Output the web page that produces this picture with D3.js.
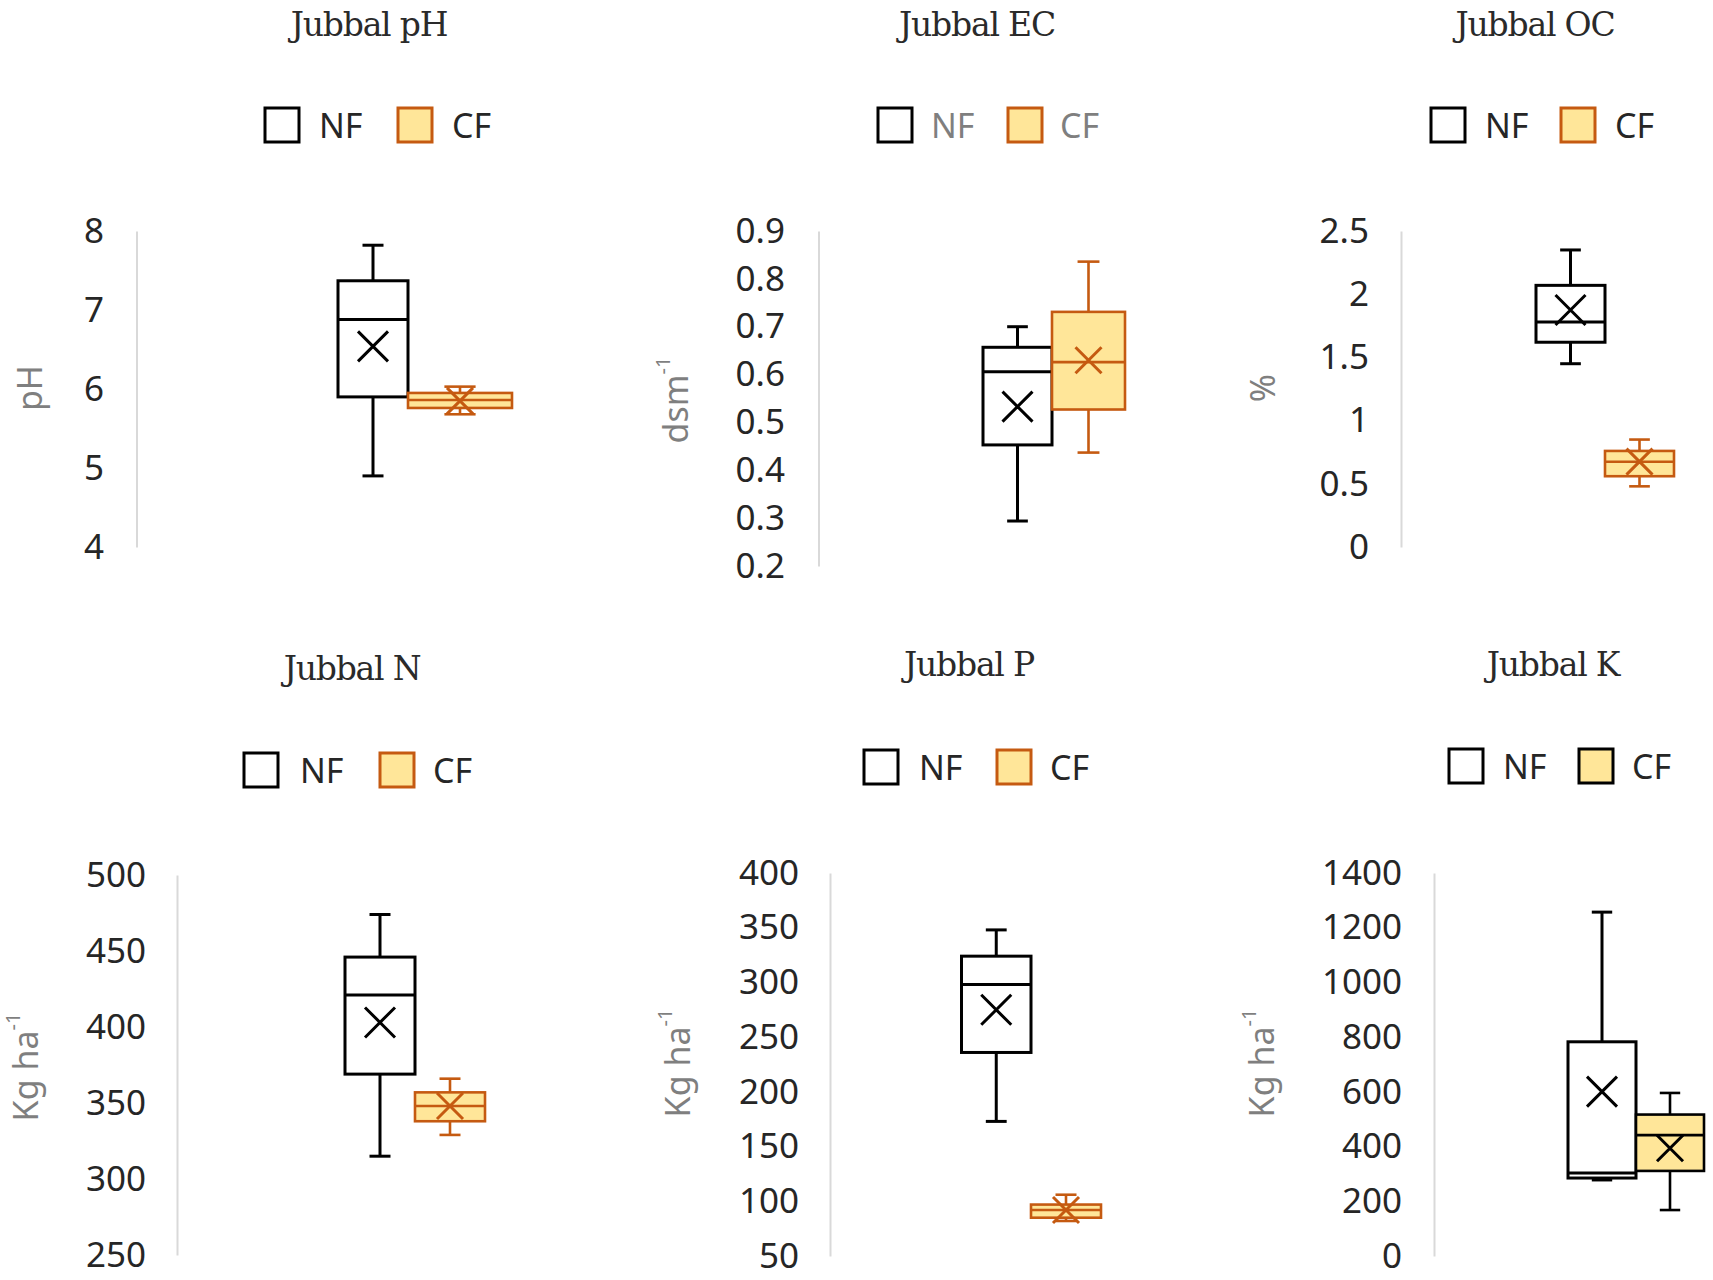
<!DOCTYPE html>
<html>
<head>
<meta charset="utf-8">
<script src="https://cdn.jsdelivr.net/npm/d3@7/dist/d3.min.js"></script>
<style>
  html, body { margin: 0; padding: 0; background: #fff; }
  svg { display: block; }
</style>
</head>
<body>
<svg id="chart" width="1713" height="1280"></svg>
<script>
// ---------------- DATA ----------------
const categories = ["NF", "CF"];
const panelTitles = ["Jubbal pH", "Jubbal EC", "Jubbal OC", "Jubbal N", "Jubbal P", "Jubbal K"];
const yLabelMain = ["pH", "dsm", "%", "Kg ha", "Kg ha", "Kg ha"];
const yLabelSup  = ["", "-1", "", "-1", "-1", "-1"];

// stats order: [min, q1, median, q3, max, mean]
const pH_NF = [4.90, 5.90, 6.88, 7.37, 7.82, 6.54];
const pH_CF = [5.68, 5.76, 5.86, 5.95, 6.03, 5.85];
const EC_NF = [0.294, 0.453, 0.606, 0.657, 0.700, 0.533];
const EC_CF = [0.437, 0.527, 0.626, 0.731, 0.836, 0.630];
const OC_NF = [1.45, 1.62, 1.78, 2.07, 2.35, 1.875];
const OC_CF = [0.48, 0.56, 0.675, 0.76, 0.85, 0.675];
const N_NF  = [315, 369, 421, 446, 474, 403];
const N_CF  = [329, 338, 348, 357, 366, 348];
const P_NF  = [173, 236, 298, 324, 348, 275];
const P_CF  = [82, 85, 92, 97, 106, 92];
const K_NF  = [278, 285, 303, 783, 1257, 601];
const K_CF  = [168, 311, 442, 517, 596, 394];

const pH_ticks = [4, 5, 6, 7, 8];
const EC_ticks = [0.2, 0.3, 0.4, 0.5, 0.6, 0.7, 0.8, 0.9];
const OC_ticks = [0, 0.5, 1, 1.5, 2, 2.5];
const N_ticks  = [250, 300, 350, 400, 450, 500];
const P_ticks  = [50, 100, 150, 200, 250, 300, 350, 400];
const K_ticks  = [0, 200, 400, 600, 800, 1000, 1200, 1400];

const seriesByPanel = [[pH_NF, pH_CF], [EC_NF, EC_CF], [OC_NF, OC_CF], [N_NF, N_CF], [P_NF, P_CF], [K_NF, K_CF]];
const ticksByPanel = [pH_ticks, EC_ticks, OC_ticks, N_ticks, P_ticks, K_ticks];
const tickFormats = [d3.format("d"), d3.format(".1f"), d3.format("~g"), d3.format("d"), d3.format("d"), d3.format("d")];

// ---------------- LAYOUT (positions / styles) ----------------
const layout = [
  { axisX: 136.5, top: 231, bottom: 547, titleX: 369, titleY: 36, legendY: 125, legend: [265, 319, 398, 452], ylabX: 29, ylabY: 388, labelRight: 104, groupLeft: 338, widths: [70, 104], legendText: "#262626", cfStroke: "#C55A11" },
  { axisX: 818.5, top: 231, bottom: 566, titleX: 977, titleY: 36, legendY: 125, legend: [878, 931, 1008, 1060], ylabX: 675, ylabY: 400, labelRight: 785, groupLeft: 983, widths: [69, 73], legendText: "#7f7f7f", cfStroke: "#C55A11" },
  { axisX: 1401, top: 231, bottom: 547, titleX: 1535, titleY: 36, legendY: 125, legend: [1431, 1485, 1561, 1615], ylabX: 1262, ylabY: 388, labelRight: 1369, groupLeft: 1536, widths: [69, 69], legendText: "#262626", cfStroke: "#C55A11" },
  { axisX: 177, top: 875, bottom: 1255, titleX: 352, titleY: 680, legendY: 770, legend: [244, 300, 380, 433], ylabX: 25, ylabY: 1067, labelRight: 146, groupLeft: 345, widths: [70, 70], legendText: "#262626", cfStroke: "#C55A11" },
  { axisX: 830, top: 873, bottom: 1256, titleX: 969, titleY: 676, legendY: 767, legend: [864, 919, 997, 1050], ylabX: 677, ylabY: 1063, labelRight: 799, groupLeft: 961.5, widths: [69.5, 70], legendText: "#262626", cfStroke: "#C55A11" },
  { axisX: 1434, top: 873, bottom: 1256, titleX: 1553, titleY: 676, legendY: 766, legend: [1449, 1503, 1579, 1632], ylabX: 1261, ylabY: 1063, labelRight: 1402, groupLeft: 1568, widths: [68, 68], legendText: "#262626", cfStroke: "#000000" }
];

const CF_FILL = "#FFE699";
const NF_FILL = "#FFFFFF";
const NF_STROKE = "#000000";
const SANS = "'Noto Sans', 'Open Sans', sans-serif";
const SERIF = "'DejaVu Serif', 'Liberation Serif', serif";

const svg = d3.select("#chart");

panelTitles.forEach((title, p) => {
  const L = layout[p];
  const ticks = ticksByPanel[p];
  const g = svg.append("g");

  const y = d3.scaleLinear()
    .domain([d3.min(ticks), d3.max(ticks)])
    .range([L.bottom, L.top]);

  // x positions for the two series
  const lefts = [];
  let acc = L.groupLeft;
  L.widths.forEach(w => { lefts.push(acc); acc += w; });
  const x = d3.scaleOrdinal().domain(categories).range(lefts);
  const wOf = d3.scaleOrdinal().domain(categories).range(L.widths);

  // title
  g.append("text")
    .attr("x", L.titleX).attr("y", L.titleY)
    .attr("text-anchor", "middle")
    .attr("font-family", SERIF)
    .attr("font-size", 33)
    .attr("letter-spacing", -1.2)
    .attr("fill", "#2a2a2a")
    .text(title);

  // legend
  const sq = 34;
  categories.forEach((c, i) => {
    const sx = L.legend[i * 2], tx = L.legend[i * 2 + 1];
    g.append("rect")
      .attr("x", sx).attr("y", L.legendY - sq / 2)
      .attr("width", sq).attr("height", sq)
      .attr("fill", c === "NF" ? NF_FILL : CF_FILL)
      .attr("stroke", c === "NF" ? NF_STROKE : L.cfStroke)
      .attr("stroke-width", 3);
    g.append("text")
      .attr("x", tx).attr("y", L.legendY)
      .attr("dominant-baseline", "central")
      .attr("font-family", SANS)
      .attr("font-size", 34)
      .attr("fill", L.legendText)
      .text(c);
  });

  // axis
  const axis = d3.axisLeft(y)
    .tickValues(ticks)
    .tickFormat(tickFormats[p])
    .tickSize(0)
    .tickSizeOuter(0)
    .tickPadding(L.axisX - L.labelRight);
  const ag = g.append("g").attr("transform", `translate(${L.axisX},0)`).call(axis);
  ag.select(".domain").attr("stroke", "#d9d9d9").attr("stroke-width", 2);
  ag.selectAll(".tick text")
    .attr("font-family", SANS)
    .attr("font-size", 35)
    .attr("fill", "#262626");

  // y label
  const yl = g.append("text")
    .attr("transform", `translate(${L.ylabX},${L.ylabY}) rotate(-90)`)
    .attr("text-anchor", "middle")
    .attr("dominant-baseline", "central")
    .attr("font-family", SANS)
    .attr("font-size", 34)
    .attr("fill", "#7f7f7f");
  yl.append("tspan").text(yLabelMain[p]);
  if (yLabelSup[p]) {
    yl.append("tspan").attr("dy", -13).attr("font-size", 20).text(yLabelSup[p]);
  }

  // boxes
  seriesByPanel[p].forEach((s, i) => {
    const c = categories[i];
    const [mn, q1, med, q3, mx, mean] = s;
    const x0 = x(c), w = wOf(c), cx = x0 + w / 2;
    const stroke = c === "NF" ? NF_STROKE : L.cfStroke;
    const fill = c === "NF" ? NF_FILL : CF_FILL;
    const sw = c === "NF" ? 3 : 2.6;
    const cap = w * 0.3;
    const bg = g.append("g").attr("stroke", stroke).attr("stroke-width", sw).attr("fill", "none");

    // whiskers
    bg.append("line").attr("x1", cx).attr("x2", cx).attr("y1", y(q3)).attr("y2", y(mx));
    bg.append("line").attr("x1", cx).attr("x2", cx).attr("y1", y(q1)).attr("y2", y(mn));
    bg.append("line").attr("x1", cx - cap / 2).attr("x2", cx + cap / 2).attr("y1", y(mx)).attr("y2", y(mx));
    bg.append("line").attr("x1", cx - cap / 2).attr("x2", cx + cap / 2).attr("y1", y(mn)).attr("y2", y(mn));
    // box
    bg.append("rect")
      .attr("x", x0).attr("y", y(q3))
      .attr("width", w).attr("height", Math.max(0, y(q1) - y(q3)))
      .attr("fill", fill);
    // median
    bg.append("line").attr("x1", x0).attr("x2", x0 + w).attr("y1", y(med)).attr("y2", y(med));
    // mean marker X
    const h = c === "NF" ? 15 : 13;
    const my = y(mean);
    bg.append("path")
      .attr("d", `M${cx - h},${my - h}L${cx + h},${my + h}M${cx - h},${my + h}L${cx + h},${my - h}`)
      .attr("stroke-width", 3);
  });
});
</script>
</body>
</html>
